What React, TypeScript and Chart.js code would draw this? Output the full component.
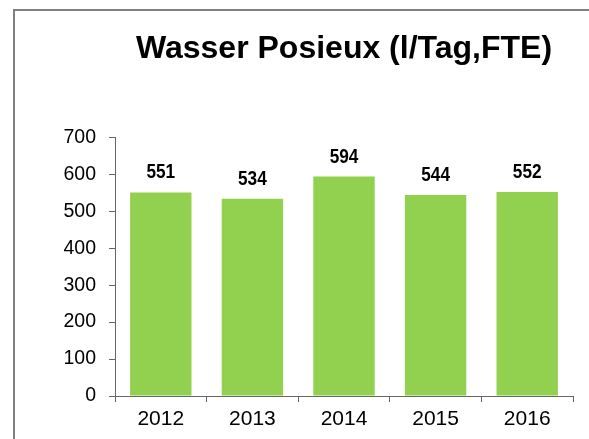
import React, { useEffect, useRef } from "react";
import { Chart, registerables } from "chart.js";

Chart.register(...registerables);

const categories = ["2012", "2013", "2014", "2015", "2016"];
const values = [551, 534, 594, 544, 552];
const yTicks = [0, 100, 200, 300, 400, 500, 600, 700];
const titleText = "Wasser Posieux (l/Tag,FTE)";

const valueLabels = {
  id: "valueLabels",
  afterDatasetsDraw(chart: any) {
    const ctx = chart.ctx;
    const meta = chart.getDatasetMeta(0);
    ctx.save();
    ctx.font = 'bold 21px "Liberation Sans", Arial, sans-serif';
    ctx.fillStyle = "#000";
    ctx.textAlign = "center";
    ctx.textBaseline = "alphabetic";
    meta.data.forEach((bar: any, i: number) => {
      ctx.save();
      ctx.translate(bar.x, bar.y - 14);
      ctx.scale(0.82, 1);
      ctx.fillText(String(values[i]), 0, 0);
      ctx.restore();
    });
    ctx.restore();
  },
};

export default function App() {
  const ref = useRef<HTMLCanvasElement>(null);
  useEffect(() => {
    if (!ref.current) return;
    const chart = new Chart(ref.current, {
      type: "bar",
      data: {
        labels: categories,
        datasets: [
          {
            data: values,
            backgroundColor: "#92D050",
            borderWidth: 0,
            categoryPercentage: 0.67,
            barPercentage: 1,
          },
        ],
      },
      options: {
        responsive: false,
        animation: false,
        layout: { padding: { left: 0, right: 16, top: 0, bottom: 0 } },
        plugins: {
          legend: { display: false },
          tooltip: { enabled: false },
          title: {
            display: true,
            text: titleText,
            fullSize: false,
            color: "#000",
            font: { family: '"Liberation Sans", Arial, sans-serif', size: 32, weight: "bold" },
            padding: { top: 30, bottom: 69 },
          },
        },
        scales: {
          x: {
            grid: {
              offset: true,
              drawOnChartArea: false,
              drawTicks: true,
              tickLength: 6,
              color: "#666",
            },
            border: { display: true, color: "#666", width: 1 },
            ticks: {
              color: "#000",
              padding: 5,
              font: { family: '"Liberation Sans", Arial, sans-serif', size: 21 },
            },
            afterFit(scale: any) {
              scale.height = 43;
            },
          },
          y: {
            min: 0,
            max: 700,
            afterBuildTicks(scale: any) {
              scale.ticks = yTicks.map((v) => ({ value: v }));
            },
            grid: {
              drawOnChartArea: false,
              drawTicks: true,
              tickLength: 6,
              color: "#666",
            },
            border: { display: true, color: "#666", width: 1 },
            ticks: {
              color: "#000",
              padding: 13,
              font: { family: '"Liberation Sans", Arial, sans-serif', size: 19.5 },
            },
            afterFit(scale: any) {
              scale.width = 115;
            },
          },
        },
      },
      plugins: [valueLabels],
    });
    return () => chart.destroy();
  }, []);

  return (
    <div
      style={{
        position: "fixed",
        left: 0,
        top: 0,
        width: 589,
        height: 439,
        overflow: "hidden",
        background: "#fff",
      }}
    >
      <div
        style={{
          position: "absolute",
          left: 13,
          top: 9,
          width: 700,
          height: 600,
          borderTop: "2px solid #7f7f7f",
          borderLeft: "2px solid #7f7f7f",
        }}
      />
      <canvas
        ref={ref}
        width={589}
        height={439}
        style={{ position: "absolute", left: 0, top: 0, width: 589, height: 439 }}
      />
    </div>
  );
}
